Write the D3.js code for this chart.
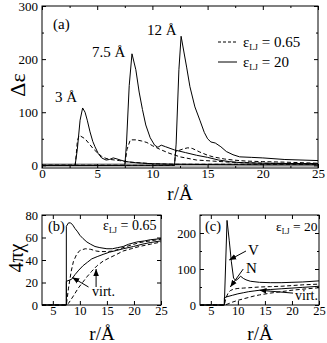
<!DOCTYPE html>
<html>
<head>
<meta charset="utf-8">
<script src="https://cdn.jsdelivr.net/npm/d3@7"></script>
<style>
  body { margin: 0; background: #fff; }
  svg text { font-family: "Liberation Serif", "DejaVu Serif", "Times New Roman", serif; fill: #000; }
</style>
</head>
<body>
<div id="vis"></div>
<script>
// ---- data ----
// panel (a): delta epsilon vs r, for the three wall distances
const A_X_TICKS = [0, 5, 10, 15, 20, 25];
const A_Y_TICKS = [0, 100, 200, 300];

const R_S3 = [0, 3.0, 3.2, 3.45, 3.68, 3.9, 4.1, 4.35, 4.6, 4.8, 5.1, 5.4, 5.8, 6.1, 6.45, 6.8, 7.1, 7.6, 8.5, 10, 12, 15, 20, 25];
const V_S3 = [0, 0, 30, 85, 108, 100, 85, 63, 45, 35, 22, 14, 10, 11, 14, 12, 10, 7, 5, 3, 2, 1.5, 1, 1];
const R_D3 = [0, 3.0, 3.1, 3.2, 3.35, 3.5, 3.9, 4.3, 4.65, 5.0, 5.4, 5.8, 6.2, 6.6, 7, 8, 10, 12, 15, 20, 25];
const V_D3 = [0, 0, 20, 45, 56, 55, 50, 40, 31, 24, 17, 13, 11, 10, 9, 6, 3, 2, 2, 2, 2];

const R_S75 = [0, 7.5, 7.65, 7.9, 8.15, 8.5, 8.8, 9.1, 9.4, 9.8, 10.2, 10.5, 10.8, 11.2, 12, 13, 14, 15, 16, 17, 18, 20, 22, 25];
const V_S75 = [0, 0, 40, 150, 210, 180, 138, 105, 76, 52, 38, 34, 38, 35, 29, 24, 19, 15, 10, 7, 5, 4, 3.5, 3];
const R_D75 = [0, 7.5, 7.7, 8.0, 8.5, 9.0, 9.5, 10, 10.7, 11.5, 12.5, 14, 15.5, 17, 20, 25];
const V_D75 = [0, 0, 30, 48, 48, 46, 43, 37, 30, 23, 16, 10, 8, 6, 4, 3];

const R_S12 = [0, 12, 12.15, 12.4, 12.6, 13.1, 13.4, 13.85, 14.3, 14.7, 15.0, 15.3, 15.7, 16.2, 16.7, 17.3, 17.9, 19, 20, 22, 25];
const V_S12 = [0, 0, 40, 180, 243, 185, 148, 110, 85, 62, 50, 44, 42, 35, 26, 20, 16, 15, 14, 11, 9];
const R_D12 = [0, 12, 12.1, 12.4, 12.8, 13.2, 13.6, 14.3, 15, 15.5, 16.5, 17.3, 18.5, 20, 22, 25];
const V_D12 = [0, 0, 25, 28, 31, 33, 32, 25, 19, 16, 12, 10, 8, 7, 6, 4];

// panel (b): 4 pi chi, eps_LJ = 0.65
const BC_X_TICKS = [5, 10, 15, 20, 25];
const B_Y_TICKS = [0, 20, 40, 60, 80];

const R_BSV = [3, 7.5, 7.5, 7.9, 8.3, 8.7, 9.1, 9.6, 10, 10.6, 11.3, 12, 12.8, 13.7, 15, 16, 17, 18, 19, 20.5, 22, 23, 25];
const V_BSV = [0, 0, 70, 73, 73, 71, 68, 65, 62, 59, 56, 54, 52, 51, 50, 50, 51, 52, 54, 56, 57, 58, 59];
const R_BSVIRT = [3, 7.5, 7.5, 8, 8.5, 9.1, 9.8, 10.6, 11.4, 12.2, 13.2, 14.3, 15.5, 16.8, 18, 19.9, 21.5, 23, 25];
const V_BSVIRT = [0, 0, 21, 22, 23, 27, 31, 35, 38, 41, 43, 45, 47, 48.5, 50, 52, 54, 55.5, 57];
const R_BDN = [3, 7.5, 7.9, 8.4, 8.8, 9.4, 10, 11, 12, 13, 13.7, 15, 16.2, 17.4, 18.6, 20, 21, 23, 25];
const V_BDN = [0, 0, 15, 30, 38.5, 45, 48.5, 50, 49.5, 48, 47.5, 47.5, 48, 50, 52, 54, 55.5, 57, 58.5];
const R_BDVIRT = [3, 7.5, 7.9, 8.8, 9.7, 10.5, 11.3, 12.2, 13.2, 14.3, 15.5, 16.8, 18, 19.5, 21, 23, 25];
const V_BDVIRT = [0, 0, 1.5, 8, 15, 20, 25, 30, 35, 39, 42, 45, 48, 50, 52, 54, 56];

// panel (c): 4 pi chi, eps_LJ = 20
const C_Y_TICKS = [0, 100, 200];

const R_CSV = [3, 7.5, 8.0, 8.4, 8.8, 9.2, 9.6, 10.0, 10.5, 11, 11.5, 12.3, 14, 16, 18, 20, 22, 25];
const V_CSV = [0, 0, 235, 180, 120, 75, 68, 72, 80, 74, 70, 66, 63, 62, 62, 63, 64, 67];
const R_CDN = [3, 7.5, 7.8, 8.2, 8.6, 9.2, 10, 11, 12, 14, 16, 18, 20, 22, 25];
const V_CDN = [0, 0, 20, 33, 40, 44, 46, 47, 48, 50, 51, 52, 54, 56, 58];
const R_CSVIRT = [3, 7.5, 7.5, 8, 9, 10, 11, 12, 13, 14, 16, 18, 20, 22, 25];
const V_CSVIRT = [0, 0, 20, 23, 27, 31, 34, 37, 39, 41, 43, 45, 47, 49, 52];
const R_CDVIRT = [3, 7.5, 8, 8.5, 9, 10, 11, 12, 13, 14, 16, 18, 20, 22, 25];
const V_CDVIRT = [0, 0, 2, 5, 8, 13, 17, 21, 25, 28, 33, 37, 41, 44, 48];

// ---- layout ----
const WIDTH_VIS = 327;
const HEIGHT_VIS = 343;
const FONT = 'Liberation Serif, DejaVu Serif, serif';
const DASH = '4,2.5';

const SVG = d3.select('#vis').append('svg');
SVG.attr('width', WIDTH_VIS).attr('height', HEIGHT_VIS).attr('font-family', FONT);

const defs = SVG.append('defs');
defs.append('marker')
  .attr('id', 'head')
  .attr('viewBox', '0 0 10 10')
  .attr('refX', 10)
  .attr('refY', 5)
  .attr('markerWidth', 7)
  .attr('markerHeight', 7)
  .attr('markerUnits', 'userSpaceOnUse')
  .attr('orient', 'auto')
  .append('path')
  .attr('d', 'M0,1 L10,5 L0,9 Z')
  .attr('fill', '#000');

function zip(xs, ys) {
  return xs.map((x, i) => [x, ys[i]]);
}

// draws frame plus inward ticks on all four sides
function drawAxes(g, x, y, xTicks, yTicks, xMinor, yMinor, fontSize) {
  const [x0, x1] = x.range();
  const [y0, y1] = y.range();

  g.append('g')
    .attr('transform', `translate(0,${y0})`)
    .call(d3.axisBottom(x).tickValues(xTicks).tickSizeInner(-4).tickSizeOuter(0).tickPadding(1));
  g.append('g')
    .attr('transform', `translate(0,${y1})`)
    .call(d3.axisTop(x).tickValues(xTicks).tickSizeInner(-4).tickSizeOuter(0).tickFormat(''));
  g.append('g')
    .attr('transform', `translate(${x0},0)`)
    .call(d3.axisLeft(y).tickValues(yTicks).tickSizeInner(-4).tickSizeOuter(0).tickPadding(4));
  g.append('g')
    .attr('transform', `translate(${x1},0)`)
    .call(d3.axisRight(y).tickValues(yTicks).tickSizeInner(-4).tickSizeOuter(0).tickFormat(''));

  // minor ticks
  [[d3.axisBottom, y0, xMinor], [d3.axisTop, y1, xMinor]].forEach(([ax, pos, vals]) => {
    g.append('g').attr('transform', `translate(0,${pos})`)
      .call(ax(x).tickValues(vals).tickSizeInner(-2).tickSizeOuter(0).tickFormat(''));
  });
  [[d3.axisLeft, x0, yMinor], [d3.axisRight, x1, yMinor]].forEach(([ax, pos, vals]) => {
    g.append('g').attr('transform', `translate(${pos},0)`)
      .call(ax(y).tickValues(vals).tickSizeInner(-2).tickSizeOuter(0).tickFormat(''));
  });

  g.selectAll('.domain').remove();
  g.selectAll('g').attr('font-family', FONT);
  g.selectAll('.tick line').attr('stroke', '#000');
  g.selectAll('.tick text').attr('font-family', FONT).attr('font-size', fontSize).attr('fill', '#000');

  g.append('rect')
    .attr('x', x0).attr('y', y1)
    .attr('width', x1 - x0).attr('height', y0 - y1)
    .attr('fill', 'none').attr('stroke', '#000').attr('stroke-width', 1);
}

function drawCurve(g, x, y, xs, ys, dashed) {
  const line = d3.line().x((d) => x(d[0])).y((d) => y(d[1]));
  g.append('path')
    .datum(zip(xs, ys))
    .attr('d', line)
    .attr('fill', 'none')
    .attr('stroke', '#000')
    .attr('stroke-width', 1)
    .attr('stroke-dasharray', dashed ? DASH : null);
}

function drawArrow(g, x, y, from, to) {
  g.append('line')
    .attr('x1', x(from[0])).attr('y1', y(from[1]))
    .attr('x2', x(to[0])).attr('y2', y(to[1]))
    .attr('stroke', '#000').attr('stroke-width', 1)
    .attr('marker-end', 'url(#head)');
}

function addText(g, px, py, size, str) {
  return g.append('text').attr('x', px).attr('y', py)
    .attr('font-family', FONT).attr('font-size', size).text(str);
}

function epsLabel(g, px, py, value, size) {
  const t = g.append('text').attr('x', px).attr('y', py)
    .attr('font-family', FONT).attr('font-size', size);
  t.append('tspan').text('ε');
  t.append('tspan').attr('font-size', size * 0.58).attr('dy', 3).text('LJ');
  t.append('tspan').attr('dy', -3).text(` = ${value}`);
  return t;
}

// ---- panel (a) ----
function panelA() {
  const g = SVG.append('g');
  const x = d3.scaleLinear().domain([0, 25]).range([42, 318]);
  const y = d3.scaleLinear().domain([-5, 300]).range([168, 6]);

  // grey band along zero
  g.append('rect')
    .attr('x', x(0)).attr('y', y(4))
    .attr('width', x(25) - x(0)).attr('height', y(-3) - y(4))
    .attr('fill', '#b4b4b4');

  drawCurve(g, x, y, R_D3, V_D3, true);
  drawCurve(g, x, y, R_D75, V_D75, true);
  drawCurve(g, x, y, R_D12, V_D12, true);
  drawCurve(g, x, y, R_S3, V_S3, false);
  drawCurve(g, x, y, R_S75, V_S75, false);
  drawCurve(g, x, y, R_S12, V_S12, false);

  drawAxes(g, x, y, A_X_TICKS, A_Y_TICKS,
    [2.5, 7.5, 12.5, 17.5, 22.5], [50, 150, 250], 13);

  addText(g, 53, 29, 15, '(a)');
  addText(g, 55, 102, 15, '3 Å');
  addText(g, 92, 57, 15, '7.5 Å');
  addText(g, 147, 35, 15, '12 Å');

  // legend
  g.append('line').attr('x1', 218).attr('x2', 237).attr('y1', 42).attr('y2', 42)
    .attr('stroke', '#000').attr('stroke-dasharray', '3,2');
  epsLabel(g, 243, 47, '0.65', 15);
  g.append('line').attr('x1', 218).attr('x2', 237).attr('y1', 62).attr('y2', 62)
    .attr('stroke', '#000');
  epsLabel(g, 243, 67, '20', 15);

  addText(g, 0, 0, 22, 'Δε')
    .attr('transform', 'translate(25,85) rotate(-90)')
    .attr('text-anchor', 'middle');
  addText(g, 180, 200, 19, 'r/Å').attr('text-anchor', 'middle');
}

// ---- panel (b) ----
function panelB() {
  const g = SVG.append('g');
  const x = d3.scaleLinear().domain([3, 25]).range([42, 161]);
  const y = d3.scaleLinear().domain([0, 80]).range([305, 215]);

  drawCurve(g, x, y, R_BDN, V_BDN, true);
  drawCurve(g, x, y, R_BDVIRT, V_BDVIRT, true);
  drawCurve(g, x, y, R_BSV, V_BSV, false);
  drawCurve(g, x, y, R_BSVIRT, V_BSVIRT, false);

  drawAxes(g, x, y, BC_X_TICKS, B_Y_TICKS, [], [], 12.5);

  addText(g, 48, 231, 14.5, '(b)');
  epsLabel(g, 103, 230, '0.65', 14);

  addText(g, 92, 296, 14, 'virt.');
  drawArrow(g, x, y, [11.6, 16], [8.6, 24.5]);
  drawArrow(g, x, y, [13, 16], [13, 32]);

  addText(g, 0, 0, 20, '4πχ')
    .attr('transform', 'translate(23,258) rotate(-90)')
    .attr('text-anchor', 'middle');
  addText(g, 102, 340, 19, 'r/Å').attr('text-anchor', 'middle');
}

// ---- panel (c) ----
function panelC() {
  const g = SVG.append('g');
  const x = d3.scaleLinear().domain([3, 25]).range([200, 319]);
  const y = d3.scaleLinear().domain([0, 250]).range([305, 215]);

  drawCurve(g, x, y, R_CDN, V_CDN, true);
  drawCurve(g, x, y, R_CDVIRT, V_CDVIRT, true);
  drawCurve(g, x, y, R_CSV, V_CSV, false);
  drawCurve(g, x, y, R_CSVIRT, V_CSVIRT, false);

  drawAxes(g, x, y, BC_X_TICKS, C_Y_TICKS, [], [50, 150, 250], 12.5);

  addText(g, 205, 231, 14.5, '(c)');
  epsLabel(g, 276, 231, '20', 13.5);

  addText(g, 248, 255, 15, 'V');
  addText(g, 246, 273, 15, 'N');
  addText(g, 295, 300, 14, 'virt.');
  drawArrow(g, x, y, [11.5, 150], [8.4, 125]);
  drawArrow(g, x, y, [11.0, 100], [8.6, 50]);
  drawArrow(g, x, y, [20.2, 33], [14, 41]);

  addText(g, 260, 340, 19, 'r/Å').attr('text-anchor', 'middle');
}

panelA();
panelB();
panelC();
</script>
</body>
</html>
